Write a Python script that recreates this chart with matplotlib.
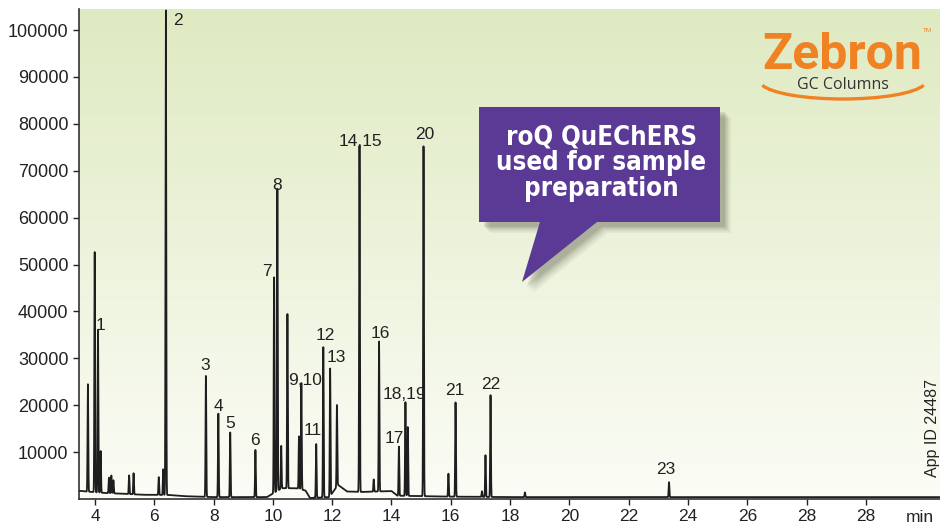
import numpy as np
import matplotlib
matplotlib.use("Agg")
import matplotlib.pyplot as plt
from matplotlib.patches import Polygon, Arc

plt.rcParams["font.family"] = ["Liberation Sans", "DejaVu Sans"]

# peak table (retention time in min, height)
peak_t = [3.76, 3.99, 4.10, 4.19, 4.47, 4.55, 4.62, 5.15, 5.30, 6.15, 6.30, 6.39,
          7.74, 8.16, 8.56, 9.41, 10.04, 10.15, 10.28, 10.49, 10.88, 10.96,
          11.46, 11.70, 11.93, 12.16, 12.92, 13.40, 13.58, 14.25, 14.47, 14.55,
          15.08, 15.92, 16.16, 17.05, 17.17, 17.34, 18.50, 23.36]
peak_h = [22900, 51200, 34800, 8900, 3300, 3800, 2800, 4000, 4500, 3800, 5500, 103600,
          25900, 17800, 13800, 10100, 46000, 64500, 9100, 37200, 11200, 22700,
          11500, 32100, 27200, 17400, 73900, 2600, 32100, 10500, 20000, 14700,
          74700, 4900, 20200, 1200, 8900, 21700, 1000, 3200]

# baseline drift
base_t = [3.46, 3.7, 4.3, 5.0, 5.6, 6.5, 7.0, 8.0, 9.8, 10.3, 10.8, 11.1, 11.25,
          11.9, 12.2, 12.5, 13.0, 14.0, 14.2, 16.0, 18.0, 32.5]
base_v = [1750, 1600, 1300, 1100, 900, 850, 600, 400, 400, 2300, 2300, 1800, 200,
          400, 3000, 1600, 1500, 1700, 700, 500, 400, 400]

# peak labels
lab_text = ["1", "2", "3", "4", "5", "6", "7", "8", "9,10", "11", "12", "13", "14,15",
            "16", "17", "18,19", "20", "21", "22", "23"]
lab_t = [4.20, 6.80, 7.72, 8.16, 8.56, 9.41, 9.81, 10.15, 11.09, 11.33, 11.77, 12.14,
         12.95, 13.63, 14.10, 14.44, 15.11, 16.13, 17.34, 23.26]
lab_y = [36900, 102100, 28400, 19700, 16100, 12500, 48600, 66900, 25300, 14600, 34800,
         30100, 76200, 35200, 12900, 22300, 77700, 23100, 24400, 6200]

x_ticks = [4, 6, 8, 10, 12, 14, 16, 18, 20, 22, 24, 26, 28, 30]
x_labels = ["4", "6", "8", "10", "12", "14", "16", "18", "20", "22", "24", "26", "28", "28"]
y_ticks = [10000, 20000, 30000, 40000, 50000, 60000, 70000, 80000, 90000, 100000]

W, H = 940, 527
fig = plt.figure(figsize=(W / 100, H / 100), dpi=100)
ax = fig.add_axes([79 / W, 1 - 499 / H, 1 - 79 / W, 490 / H])

xmin, xmax = 3.46, 32.5
ymin, ymax = 0, 104500

# background gradient
grad = np.linspace(0, 1, 256)[:, None]
top = np.array([0.874, 0.918, 0.760])
bot = np.array([0.985, 0.99, 0.965])
img = top[None, None, :] * (1 - grad[..., None]) + bot[None, None, :] * grad[..., None]
img = np.repeat(img, 2, axis=1)
ax.imshow(img, extent=[xmin, xmax, ymin, ymax], aspect="auto", zorder=0, origin="upper")

t = np.linspace(xmin, xmax, 12000)
sig = np.interp(t, base_t, base_v)
for pt, ph in zip(peak_t, peak_h):
    sig = sig + ph * np.exp(-0.5 * ((t - pt) / 0.012) ** 2)
ax.plot(t, sig, color="#1e1e1e", lw=1.3, zorder=3)

for s, lt, ly in zip(lab_text, lab_t, lab_y):
    ax.text(lt, ly, s, ha="center", va="center", fontsize=12.5, color="#222222", zorder=4)

ax.set_xlim(xmin, xmax)
ax.set_ylim(ymin, ymax)
ax.set_xticks(x_ticks)
ax.set_xticklabels(x_labels)
ax.set_yticks(y_ticks)
ax.tick_params(axis="both", colors="#222222", length=4, width=1)
ax.tick_params(axis="x", pad=3, labelsize=12.5)
ax.tick_params(axis="y", labelsize=13)
for side in ["top", "right"]:
    ax.spines[side].set_visible(False)
for side in ["left", "bottom"]:
    ax.spines[side].set_color("#333333")
    ax.spines[side].set_linewidth(1.2)
ax.text(920 / W, 1 - 518 / H, "min", transform=fig.transFigure, ha="center", va="center",
        fontsize=12.5, color="#222222")
ax.text(932 / W, 1 - 428 / H, "App ID 24487", transform=fig.transFigure, rotation=90,
        ha="center", va="center", fontsize=11.5, color="#222222")

# overlay in pixel coordinates for callout and logo
ov = fig.add_axes([0, 0, 1, 1])
ov.set_xlim(0, W)
ov.set_ylim(H, 0)
ov.axis("off")
ov.patch.set_alpha(0)

bubble = [(479, 107), (720, 107), (720, 222), (597, 222), (522, 282), (540, 222), (479, 222)]
for i, a in enumerate([0.05, 0.06, 0.08, 0.10, 0.12]):
    off = 11 - i * 1.5
    ov.add_patch(Polygon([(x + off, y + off) for x, y in bubble], closed=True,
                         facecolor="#3a3a2a", edgecolor="none", alpha=a, zorder=1))
ov.add_patch(Polygon(bubble, closed=True, facecolor="#5a3a94", edgecolor="none", zorder=2))
ov.text(601, 163, "roQ QuEChERS\nused for sample\npreparation", ha="center", va="center",
        fontsize=18.5, fontweight="bold", color="white", linespacing=1.0,
        family="DejaVu Sans", fontstretch="condensed", zorder=3)

# logo
ov.text(842, 69, "Zebron", ha="center", va="baseline", fontsize=36, color="#f08223",
        family="Roboto", fontweight="bold", zorder=3)
ov.text(927, 30, "TM", ha="center", va="center", fontsize=4.5, color="#f08223", zorder=3)
ov.text(843, 85, "GC Columns", ha="center", va="center", fontsize=11.5, color="#333333",
        family="Open Sans", zorder=3)
ov.add_patch(Arc((843, 81), 166, 36, theta1=3, theta2=177, color="#f08223", lw=2.4, zorder=3))

fig.savefig("out.png", dpi=100)
